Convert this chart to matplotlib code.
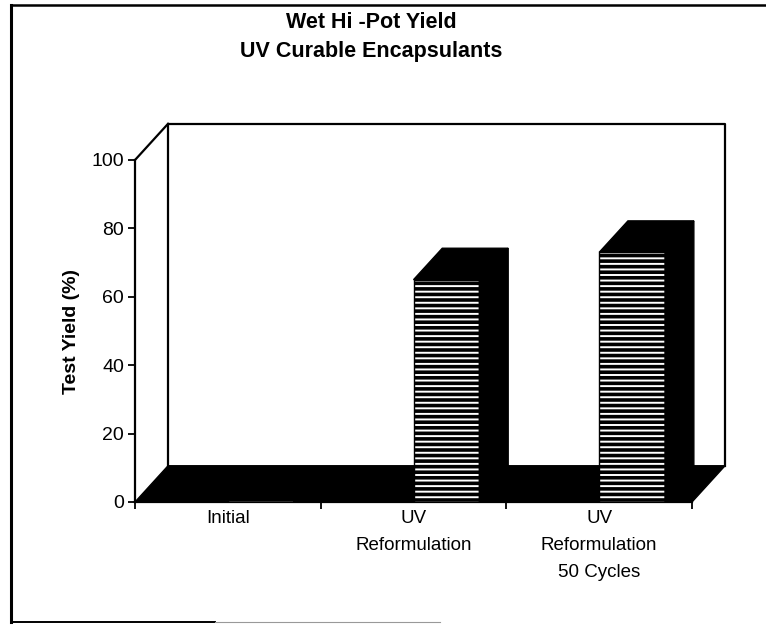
import numpy as np
import matplotlib.pyplot as plt
from matplotlib.patches import Polygon
from matplotlib.lines import Line2D

plt.rcParams["font.family"] = ["Liberation Sans", "DejaVu Sans"]
plt.rcParams["hatch.linewidth"] = 1.4

# data
categories = ["Initial", "UV\nReformulation", "UV\nReformulation\n50 Cycles"]
yield_pct = [1, 65, 73]
yticks = [0, 20, 40, 60, 80, 100]

# 3-D look: depth of the chart box and of each bar (data units)
DX, DY = 0.178, 10.6
BDX, BDY = 0.155, 9.2
BAR_W = 0.355

W, H = 766, 626
fig = plt.figure(figsize=(W / 100, H / 100), dpi=100)
ax = fig.add_axes([135 / W, (H - 502) / H, 557 / W, 342 / H])
ax.set_xlim(0, 3)
ax.set_ylim(0, 100)

# floor slab
ax.add_patch(Polygon([(0, 0), (3, 0), (3 + DX, DY), (DX, DY)], closed=True,
                     facecolor="black", edgecolor="black", lw=1,
                     clip_on=False, zorder=1))

# back wall and left wall outline
ax.plot([DX, DX, 3 + DX, 3 + DX], [DY, 100 + DY, 100 + DY, DY],
        color="black", lw=1.6, clip_on=False, zorder=2)
ax.plot([0, DX], [100, 100 + DY], color="black", lw=1.6,
        clip_on=False, zorder=2)

# bars: hatched front face, solid top and side
centers = np.arange(len(categories)) + 0.5
ax.bar(centers, yield_pct, width=BAR_W, align="edge", facecolor="black",
       edgecolor="white", hatch="---", linewidth=0, zorder=3)
ax.bar(centers, yield_pct, width=BAR_W, align="edge", fill=False,
       edgecolor="black", linewidth=1, zorder=4)
for x0, v in zip(centers, yield_pct):
    x1 = x0 + BAR_W
    ax.add_patch(Polygon([(x0, v), (x1, v), (x1 + BDX, v + BDY), (x0 + BDX, v + BDY)],
                         closed=True, facecolor="black", edgecolor="black",
                         lw=1, clip_on=False, zorder=3))
    ax.add_patch(Polygon([(x1, 0), (x1 + BDX, BDY), (x1 + BDX, v + BDY), (x1, v)],
                         closed=True, facecolor="black", edgecolor="black",
                         lw=1, clip_on=False, zorder=3))

# axes styling
for side in ["top", "right"]:
    ax.spines[side].set_visible(False)
ax.spines["left"].set_linewidth(1.6)
ax.spines["bottom"].set_linewidth(1.6)
ax.set_facecolor("none")

ax.set_yticks(yticks)
ax.tick_params(axis="y", direction="out", length=5, width=1.3,
               labelsize=14, pad=3)
ax.set_xticks([0, 1, 2, 3])
ax.set_xticklabels([])
ax.tick_params(axis="x", which="major", direction="out", length=5, width=1.3)
ax.set_xticks(centers, minor=True)
ax.set_xticklabels(categories, minor=True, fontsize=13.5, linespacing=1.75)
ax.tick_params(axis="x", which="minor", length=0, pad=6)

ax.set_ylabel("Test Yield (%)", fontsize=14, fontweight="bold")
ax.yaxis.set_label_coords(-0.098, 0.5)

fig.text(371 / W, 1 - 22 / H, "Wet Hi -Pot Yield", ha="center", va="center",
         fontsize=15.5, fontweight="bold")
fig.text(371 / W, 1 - 52 / H, "UV Curable Encapsulants", ha="center",
         va="center", fontsize=15.5, fontweight="bold")

# outer frame
def px_line(xs, ys, **kw):
    fig.add_artist(Line2D([x / W for x in xs], [1 - y / H for y in ys],
                          transform=fig.transFigure, **kw))

px_line([11, 11], [5, 622], color="black", lw=2.2)
px_line([11, 770], [5, 5], color="black", lw=1.8)
px_line([11, 215], [622, 622], color="black", lw=1.4)
px_line([215, 440], [622, 622], color="#999999", lw=0.8)

fig.savefig("out.png", dpi=100)
